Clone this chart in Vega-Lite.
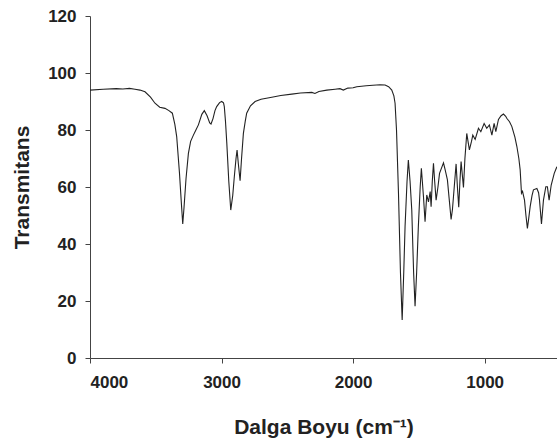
{
  "$schema": "https://vega.github.io/schema/vega-lite/v6.json",
  "autosize": "none",
  "width": 467,
  "height": 342,
  "padding": {"left": 90, "top": 16, "right": 0, "bottom": 83},
  "background": "white",
  "config": {
    "view": {"stroke": null},
    "axis": {
      "grid": false,
      "domainColor": "#444",
      "tickColor": "#444",
      "tickSize": 5,
      "labelFont": "Liberation Sans",
      "labelFontWeight": "bold",
      "labelFontSize": 17,
      "labelColor": "#222",
      "titleFont": "Liberation Sans",
      "titleFontWeight": "bold",
      "titleFontSize": 21,
      "titleColor": "#222"
    }
  },
  "data": {
    "values": [
      {"wn": 4000, "t": 94.0}, {"wn": 3900, "t": 94.3}, {"wn": 3800, "t": 94.5}, {"wn": 3750, "t": 94.4},
      {"wn": 3700, "t": 94.6}, {"wn": 3658, "t": 94.3}, {"wn": 3620, "t": 94.0}, {"wn": 3582, "t": 93.4},
      {"wn": 3540, "t": 91.5}, {"wn": 3506, "t": 89.4}, {"wn": 3470, "t": 88.0}, {"wn": 3430, "t": 87.6},
      {"wn": 3400, "t": 86.8}, {"wn": 3374, "t": 85.9}, {"wn": 3355, "t": 82.0}, {"wn": 3341, "t": 77.7},
      {"wn": 3320, "t": 65.0}, {"wn": 3305, "t": 54.0}, {"wn": 3295, "t": 47.0}, {"wn": 3285, "t": 53.0},
      {"wn": 3270, "t": 63.0}, {"wn": 3252, "t": 71.8}, {"wn": 3235, "t": 76.0}, {"wn": 3214, "t": 78.2},
      {"wn": 3195, "t": 80.0}, {"wn": 3176, "t": 81.8}, {"wn": 3150, "t": 85.5}, {"wn": 3131, "t": 86.8},
      {"wn": 3110, "t": 85.0}, {"wn": 3090, "t": 82.5}, {"wn": 3080, "t": 82.1}, {"wn": 3065, "t": 84.0},
      {"wn": 3050, "t": 86.8}, {"wn": 3037, "t": 88.2}, {"wn": 3015, "t": 89.6}, {"wn": 2999, "t": 90.0},
      {"wn": 2985, "t": 89.5}, {"wn": 2979, "t": 88.2}, {"wn": 2970, "t": 83.0}, {"wn": 2960, "t": 75.3},
      {"wn": 2945, "t": 62.0}, {"wn": 2930, "t": 51.9}, {"wn": 2915, "t": 57.0}, {"wn": 2903, "t": 63.6},
      {"wn": 2890, "t": 70.0}, {"wn": 2882, "t": 73.0}, {"wn": 2872, "t": 68.0}, {"wn": 2859, "t": 62.2},
      {"wn": 2848, "t": 70.0}, {"wn": 2834, "t": 78.8}, {"wn": 2820, "t": 83.0}, {"wn": 2809, "t": 85.9},
      {"wn": 2780, "t": 88.5}, {"wn": 2745, "t": 90.0}, {"wn": 2700, "t": 90.8}, {"wn": 2618, "t": 91.5},
      {"wn": 2550, "t": 92.1}, {"wn": 2466, "t": 92.6}, {"wn": 2400, "t": 93.0}, {"wn": 2314, "t": 93.2},
      {"wn": 2290, "t": 92.8}, {"wn": 2260, "t": 93.5}, {"wn": 2200, "t": 94.0}, {"wn": 2137, "t": 94.3},
      {"wn": 2100, "t": 94.5}, {"wn": 2074, "t": 94.0}, {"wn": 2040, "t": 94.7}, {"wn": 2000, "t": 94.8},
      {"wn": 1972, "t": 95.2}, {"wn": 1900, "t": 95.5}, {"wn": 1850, "t": 95.7}, {"wn": 1795, "t": 95.9},
      {"wn": 1757, "t": 95.8}, {"wn": 1730, "t": 95.2}, {"wn": 1706, "t": 94.0}, {"wn": 1690, "t": 92.0},
      {"wn": 1681, "t": 89.4}, {"wn": 1670, "t": 80.0}, {"wn": 1655, "t": 57.8}, {"wn": 1640, "t": 30.0},
      {"wn": 1627, "t": 13.3}, {"wn": 1615, "t": 30.0}, {"wn": 1605, "t": 46.1}, {"wn": 1590, "t": 62.0},
      {"wn": 1580, "t": 69.5}, {"wn": 1567, "t": 62.0}, {"wn": 1554, "t": 51.9}, {"wn": 1540, "t": 30.0},
      {"wn": 1529, "t": 18.2}, {"wn": 1517, "t": 30.0}, {"wn": 1504, "t": 46.1}, {"wn": 1490, "t": 60.0},
      {"wn": 1481, "t": 66.6}, {"wn": 1465, "t": 56.6}, {"wn": 1453, "t": 47.8}, {"wn": 1440, "t": 57.2},
      {"wn": 1427, "t": 54.8}, {"wn": 1414, "t": 58.4}, {"wn": 1407, "t": 53.1}, {"wn": 1398, "t": 62.0},
      {"wn": 1389, "t": 68.3}, {"wn": 1380, "t": 62.0}, {"wn": 1369, "t": 55.4}, {"wn": 1355, "t": 60.0},
      {"wn": 1343, "t": 64.8}, {"wn": 1313, "t": 68.5}, {"wn": 1300, "t": 66.0}, {"wn": 1283, "t": 62.5},
      {"wn": 1270, "t": 56.0}, {"wn": 1255, "t": 48.6}, {"wn": 1245, "t": 52.0}, {"wn": 1237, "t": 56.6},
      {"wn": 1217, "t": 68.1}, {"wn": 1207, "t": 60.0}, {"wn": 1197, "t": 52.9}, {"wn": 1188, "t": 62.0},
      {"wn": 1179, "t": 68.9}, {"wn": 1161, "t": 59.8}, {"wn": 1150, "t": 70.0}, {"wn": 1136, "t": 78.8},
      {"wn": 1116, "t": 73.0}, {"wn": 1100, "t": 76.0}, {"wn": 1090, "t": 78.2}, {"wn": 1072, "t": 76.7},
      {"wn": 1047, "t": 80.6}, {"wn": 1029, "t": 79.4}, {"wn": 1004, "t": 82.3}, {"wn": 984, "t": 80.6},
      {"wn": 964, "t": 81.8}, {"wn": 945, "t": 78.2}, {"wn": 928, "t": 82.3}, {"wn": 915, "t": 79.4},
      {"wn": 895, "t": 83.7}, {"wn": 875, "t": 85.0}, {"wn": 857, "t": 85.6}, {"wn": 840, "t": 84.8},
      {"wn": 832, "t": 84.1}, {"wn": 811, "t": 82.9}, {"wn": 793, "t": 81.2}, {"wn": 770, "t": 77.5},
      {"wn": 755, "t": 74.2}, {"wn": 740, "t": 70.0}, {"wn": 730, "t": 66.0}, {"wn": 720, "t": 57.8},
      {"wn": 712, "t": 58.5}, {"wn": 697, "t": 55.4}, {"wn": 686, "t": 50.0}, {"wn": 675, "t": 45.5},
      {"wn": 665, "t": 49.0}, {"wn": 654, "t": 53.1}, {"wn": 640, "t": 57.0}, {"wn": 629, "t": 59.0},
      {"wn": 603, "t": 59.5}, {"wn": 590, "t": 58.0}, {"wn": 583, "t": 55.4}, {"wn": 568, "t": 47.0},
      {"wn": 553, "t": 55.4}, {"wn": 535, "t": 60.1}, {"wn": 523, "t": 60.1}, {"wn": 510, "t": 55.4},
      {"wn": 494, "t": 60.7}, {"wn": 471, "t": 64.8}, {"wn": 451, "t": 67.1}
    ]
  },
  "mark": {"type": "line", "color": "#222", "strokeWidth": 1.1, "clip": true},
  "encoding": {
    "x": {
      "field": "wn", "type": "quantitative", "sort": null,
      "scale": {"domain": [4000, 450], "nice": false, "zero": false},
      "axis": {
        "title": "Dalga Boyu (cm⁻¹)",
        "values": [4000, 3000, 2000, 1000],
        "format": "d",
        "labelPadding": 11,
        "titleY": 75,
        "titleBaseline": "alphabetic"
      }
    },
    "y": {
      "field": "t", "type": "quantitative",
      "scale": {"domain": [0, 120], "nice": false},
      "axis": {
        "title": "Transmitans",
        "values": [0, 20, 40, 60, 80, 100, 120],
        "format": "d",
        "labelPadding": 9,
        "titleX": -62,
        "titleBaseline": "alphabetic"
      }
    },
    "order": {"field": "wn", "sort": "descending"}
  }
}
